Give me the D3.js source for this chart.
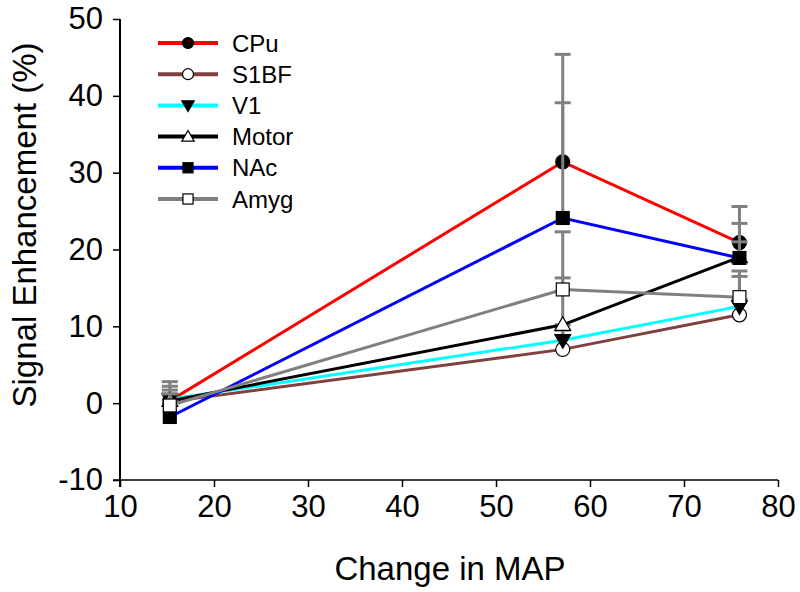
<!DOCTYPE html>
<html><head><meta charset="utf-8">
<script src="https://cdn.jsdelivr.net/npm/d3@7"></script>
<style>body{margin:0;background:#fff}svg{display:block}text{font-family:"Liberation Sans",Arial,sans-serif}</style>
</head><body><svg id="c" width="800" height="592"></svg>
<script>
const mapChange = [15.3, 57.1, 75.9];
const seriesNames = ["CPu", "S1BF", "V1", "Motor", "NAc", "Amyg"];
const cpu   = [0.3, 31.4, 20.9];
const s1bf  = [0.2, 7.0, 11.5];
const v1    = [0.5, 8.2, 12.6];
const motor = [0.3, 10.2, 19.0];
const nac   = [-1.8, 24.1, 18.9];
const amyg  = [-0.3, 14.8, 13.8];
const cpuErr   = [2.5, 14.0, 4.7];
const s1bfErr  = [1.0, 2.5, 2.0];
const v1Err    = [1.2, 2.0, 3.9];
const motorErr = [1.9, 6.1, 2.0];
const nacErr   = [2.0, 15.0, 4.5];
const amygErr  = [1.5, 7.5, 3.4];
const xTicks = [10, 20, 30, 40, 50, 60, 70, 80];
const yTicks = [-10, 0, 10, 20, 30, 40, 50];

const colors = ["#ff0000", "#804040", "#00ffff", "#000000", "#0000ff", "#808080"];
const markers = [
  {shape: "circle", fill: "#000"},
  {shape: "circle", fill: "#fff"},
  {shape: "triDown", fill: "#000"},
  {shape: "triUp", fill: "#fff"},
  {shape: "square", fill: "#000"},
  {shape: "square", fill: "#fff"}
];
const vals = [cpu, s1bf, v1, motor, nac, amyg];
const errs = [cpuErr, s1bfErr, v1Err, motorErr, nacErr, amygErr];

const svg = d3.select("#c");
const x = d3.scaleLinear().domain([10, 80]).range([120, 778]);
const y = d3.scaleLinear().domain([-10, 50]).range([480, 19]);

function drawMarker(g, shape, fill, cx, cy, s) {
  if (shape === "circle") {
    g.append("circle").attr("cx", cx).attr("cy", cy).attr("r", s * 0.5)
      .attr("fill", fill).attr("stroke", "#000").attr("stroke-width", 1.2);
  } else if (shape === "square") {
    g.append("rect").attr("x", cx - s * 0.46).attr("y", cy - s * 0.46)
      .attr("width", s * 0.92).attr("height", s * 0.92)
      .attr("fill", fill).attr("stroke", "#000").attr("stroke-width", 1.2);
  } else {
    const sym = d3.symbol().type(d3.symbolTriangle).size(s * s * 0.55)();
    g.append("path").attr("d", sym)
      .attr("transform", `translate(${cx},${cy + (shape === "triDown" ? -1 : 1)}) rotate(${shape === "triDown" ? 180 : 0})`)
      .attr("fill", fill).attr("stroke", "#000").attr("stroke-width", 1.2);
  }
}

// axes
const xAxis = d3.axisBottom(x).tickValues(xTicks).tickSize(7).tickPadding(8);
const yAxis = d3.axisLeft(y).tickValues(yTicks).tickSize(7).tickPadding(10).tickFormat(d => String(d));
const gx = svg.append("g").attr("transform", `translate(0,${y(-10)})`).call(xAxis);
const gy = svg.append("g").attr("transform", `translate(${x(10)},0)`).call(yAxis);
[gx, gy].forEach(g => {
  g.select(".domain").remove();
  g.selectAll(".tick line").attr("stroke", "#000").attr("stroke-width", 1.5);
  g.selectAll(".tick text").attr("font-size", 31).attr("fill", "#000")
    .attr("font-family", "'Liberation Sans', Arial, sans-serif");
});
svg.append("line").attr("x1", x(10) - 7).attr("x2", x(80)).attr("y1", y(-10)).attr("y2", y(-10))
  .attr("stroke", "#000").attr("stroke-width", 1.5);
svg.append("line").attr("x1", x(10)).attr("x2", x(10)).attr("y1", y(50)).attr("y2", y(-10) + 7)
  .attr("stroke", "#000").attr("stroke-width", 2);

svg.append("text").attr("x", 450).attr("y", 580).attr("text-anchor", "middle")
  .attr("font-size", 33).text("Change in MAP");
svg.append("text").attr("transform", "translate(36,225) rotate(-90)").attr("text-anchor", "middle")
  .attr("font-size", 33).text("Signal Enhancement (%)");

// series
const plot = svg.append("g");
const line = d3.line().x((d, i) => x(mapChange[i])).y(d => y(d));
vals.forEach((v, k) => {
  const g = plot.append("g");
  g.append("path").datum(v).attr("d", line).attr("fill", "none")
    .attr("stroke", colors[k]).attr("stroke-width", 3);
  v.forEach((d, i) => {
    const top = d + errs[k][i];
    g.append("line").attr("x1", x(mapChange[i])).attr("x2", x(mapChange[i]))
      .attr("y1", y(d)).attr("y2", y(top)).attr("stroke", "#808080").attr("stroke-width", 3);
    g.append("line").attr("x1", x(mapChange[i]) - 8).attr("x2", x(mapChange[i]) + 8)
      .attr("y1", y(top)).attr("y2", y(top)).attr("stroke", "#808080").attr("stroke-width", 3);
  });
  v.forEach((d, i) => drawMarker(g, markers[k].shape, markers[k].fill, x(mapChange[i]), y(d), 14));
});

// legend
const lg = svg.append("g");
seriesNames.forEach((name, k) => {
  const ly = 43 + k * 31.2;
  lg.append("line").attr("x1", 158).attr("x2", 218).attr("y1", ly).attr("y2", ly)
    .attr("stroke", colors[k]).attr("stroke-width", 4);
  drawMarker(lg, markers[k].shape, markers[k].fill, 188, ly, 11);
  lg.append("text").attr("x", 232).attr("y", ly + 8.5).attr("font-size", 24).text(name);
});
</script></body></html>
